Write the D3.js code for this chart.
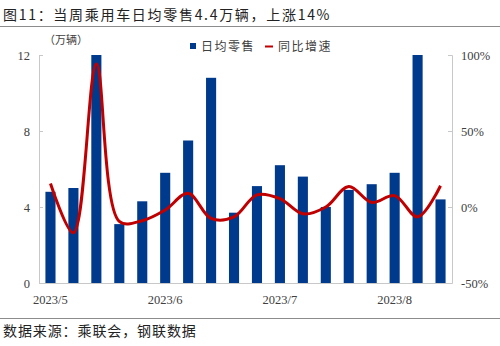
<!DOCTYPE html>
<html>
<head>
<meta charset="utf-8">
<script src="https://cdn.jsdelivr.net/npm/d3@7"></script>
<style>
  html, body { margin: 0; padding: 0; background: #fff; }
  svg { display: block; }
</style>
</head>
<body>
<svg id="chart" width="500" height="346"></svg>
<script>
// Weekly data, May–Aug 2023
const weeks = d3.range(18).map(i => "w" + (i + 1));
const dailyRetail = [4.8, 5.0, 12.0, 3.1, 4.3, 5.8, 7.5, 10.8, 3.7, 5.1, 6.2, 5.6, 4.0, 4.9, 5.2, 5.8, 12.0, 4.4];
const yoyGrowth = [15.5, -17, 94, -9.5, -9, -2, 9, -7.5, -6.5, 8, 5.5, -4.5, 0, 13.5, 3, 7.5, -6.5, 14];
const monthLabels = [{ idx: 0, text: "2023/5" }, { idx: 5, text: "2023/6" }, { idx: 10, text: "2023/7" }, { idx: 15, text: "2023/8" }];
const leftTicks = [0, 4, 8, 12];
const rightTicks = [-50, 0, 50, 100];

const svg = d3.select("#chart");
const plot = { left: 39, right: 452, top: 55, bottom: 283 };

const x = d3.scaleBand().domain(weeks).range([plot.left, plot.right]).paddingInner(0.56).paddingOuter(0.28);
const yL = d3.scaleLinear().domain([0, 12]).range([plot.bottom, plot.top]);
const yR = d3.scaleLinear().domain([-50, 100]).range([plot.bottom, plot.top]);

const cjk = "'Noto Sans CJK SC', sans-serif";
const serif = "'Liberation Serif', 'DejaVu Serif', serif";

// Title and frame lines
svg.append("text").attr("x", 3).attr("y", 20)
  .attr("font-family", cjk).attr("font-size", 14).attr("fill", "#222").attr("letter-spacing", 1.7)
  .text("图11：当周乘用车日均零售4.4万辆，上涨14%");
svg.append("line").attr("x1", 0).attr("x2", 500).attr("y1", 26.5).attr("y2", 26.5)
  .attr("stroke", "#8c8c8c").attr("stroke-width", 1);
svg.append("line").attr("x1", 0).attr("x2", 500).attr("y1", 318.5).attr("y2", 318.5)
  .attr("stroke", "#8c8c8c").attr("stroke-width", 1);
svg.append("text").attr("x", 3).attr("y", 336)
  .attr("font-family", cjk).attr("font-size", 14).attr("fill", "#222").attr("letter-spacing", 0.9)
  .text("数据来源：乘联会，钢联数据");

// Unit label
svg.append("text").attr("x", 44).attr("y", 44)
  .attr("font-family", cjk).attr("font-size", 11).attr("fill", "#404040")
  .text("（万辆）");

// Axes
const axisColor = "#c8c8c8";
const gL = svg.append("g").attr("transform", `translate(${plot.left},0)`)
  .call(d3.axisLeft(yL).tickValues(leftTicks).tickSize(-4).tickPadding(9).tickFormat(d3.format("d")));
const gR = svg.append("g").attr("transform", `translate(${plot.right},0)`)
  .call(d3.axisRight(yR).tickValues(rightTicks).tickSize(-4).tickPadding(9).tickFormat(d => d + "%"));
[gL, gR].forEach(g => {
  g.select(".domain").attr("stroke", axisColor);
  g.selectAll(".tick line").attr("stroke", axisColor);
  g.selectAll(".tick text").attr("font-family", serif).attr("font-size", 12.5).attr("fill", "#404040");
});
svg.append("line").attr("x1", plot.left).attr("x2", plot.right)
  .attr("y1", plot.bottom + 0.5).attr("y2", plot.bottom + 0.5).attr("stroke", axisColor);

// Month labels
svg.append("g").selectAll("text").data(monthLabels).join("text")
  .attr("x", d => x(weeks[d.idx]) + x.bandwidth() / 2)
  .attr("y", 304)
  .attr("text-anchor", "middle")
  .attr("font-family", serif).attr("font-size", 12.5).attr("fill", "#404040")
  .text(d => d.text);

// Bars
svg.append("g").selectAll("rect").data(dailyRetail).join("rect")
  .attr("x", (d, i) => x(weeks[i]))
  .attr("width", x.bandwidth())
  .attr("y", d => yL(d))
  .attr("height", d => yL(0) - yL(d))
  .attr("fill", "#003a8c");

// YoY line
const line = d3.line()
  .x((d, i) => x(weeks[i]) + x.bandwidth() / 2)
  .y(d => yR(d))
  .curve(d3.curveCatmullRom.alpha(0.5));
svg.append("path").datum(yoyGrowth)
  .attr("d", line)
  .attr("fill", "none")
  .attr("stroke", "#c00000")
  .attr("stroke-width", 3)
  .attr("stroke-linejoin", "round");

// Legend
const lg = svg.append("g");
lg.append("rect").attr("x", 190).attr("y", 43).attr("width", 6).attr("height", 6).attr("fill", "#003a8c");
lg.append("text").attr("x", 201).attr("y", 51)
  .attr("font-family", cjk).attr("font-size", 12).attr("fill", "#404040").attr("letter-spacing", 1.5)
  .text("日均零售");
lg.append("line").attr("x1", 265).attr("x2", 273).attr("y1", 46.5).attr("y2", 46.5)
  .attr("stroke", "#c00000").attr("stroke-width", 2);
lg.append("text").attr("x", 278).attr("y", 51)
  .attr("font-family", cjk).attr("font-size", 12).attr("fill", "#404040").attr("letter-spacing", 1.5)
  .text("同比增速");
</script>
</body>
</html>
